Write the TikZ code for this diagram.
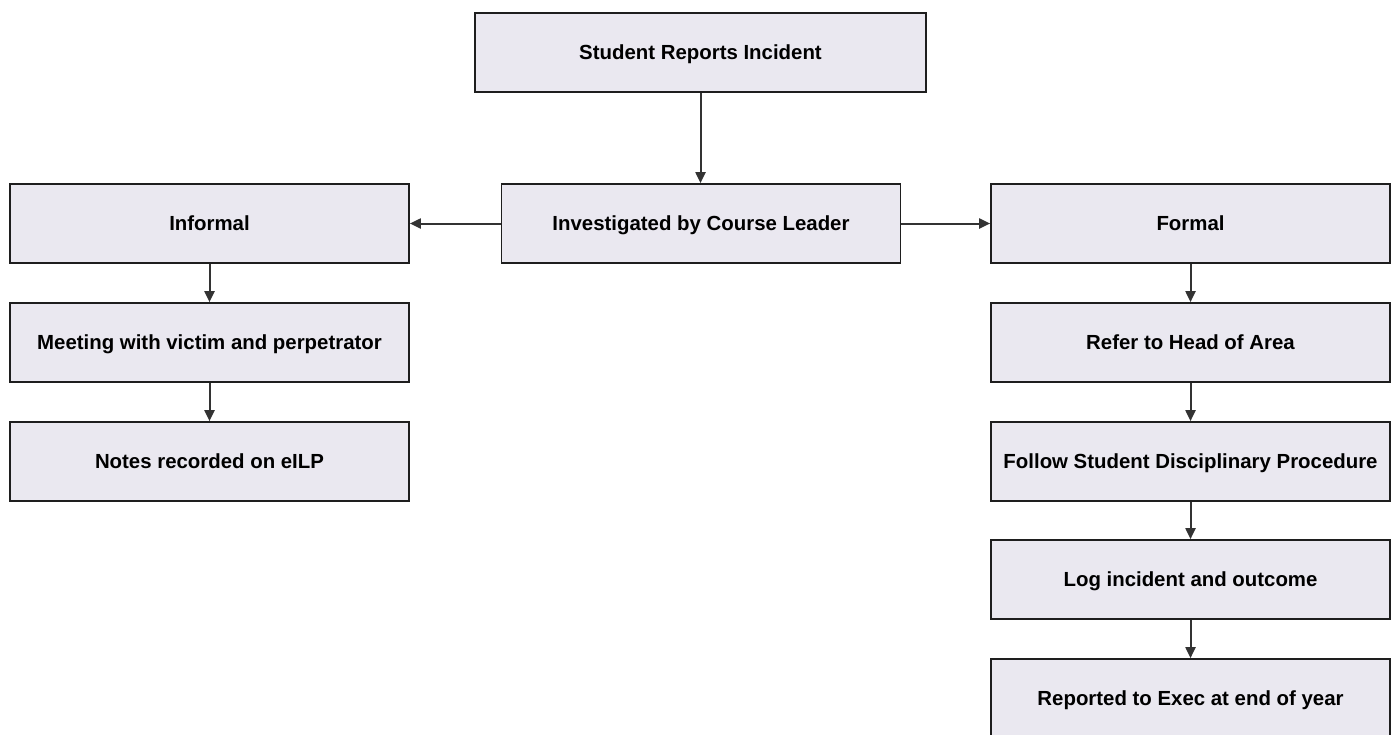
\documentclass[tikz,border=0pt]{standalone}
\usepackage{fontspec}
\setmainfont{Liberation Sans}
\usetikzlibrary{arrows.meta}
\definecolor{boxfill}{HTML}{EAE8F0}
\definecolor{boxline}{HTML}{1E1E1E}
\definecolor{arrline}{HTML}{333333}
\tikzset{
  stepbox/.style={draw=boxline, line width=1.7pt, fill=boxfill, rectangle,
    minimum width=399pt, minimum height=79pt, inner sep=0pt,
    text height=14.6pt, text depth=0pt,
    font=\fontsize{20.4}{24}\selectfont\bfseries, text=black},
  conn/.style={draw=arrline, line width=2pt,
    -{Triangle[length=11pt,width=10pt]}}
}
\begin{document}
\begin{tikzpicture}[x=1pt,y=-1pt]
\useasboundingbox (0,0) rectangle (1391,734);
\fill[white] (0,0) rectangle (1391,734);
\node[stepbox, minimum width=451pt] (student) at (700.5,52.5) {Student Reports Incident};
\node[stepbox] (invest) at (701,223.5) {Investigated by Course Leader};
\node[stepbox] (informal) at (209.5,223.5) {Informal};
\node[stepbox] (formal) at (1190.5,223.5) {Formal};
\node[stepbox] (meeting) at (209.5,342.5) {Meeting with victim and perpetrator};
\node[stepbox] (notes) at (209.5,461.5) {Notes recorded on eILP};
\node[stepbox] (refer) at (1190.5,342.5) {Refer to Head of Area};
\node[stepbox] (follow) at (1190.5,461.5) {Follow Student Disciplinary Procedure};
\node[stepbox] (log) at (1190.5,579.5) {Log incident and outcome};
\node[stepbox] (reported) at (1190.5,698.5) {Reported to Exec at end of year};
\draw[conn] (student.south) -- (student.south |- invest.north);
\draw[conn] (invest.west) -- (informal.east);
\draw[conn] (invest.east) -- (formal.west);
\draw[conn] (informal) -- (meeting);
\draw[conn] (meeting) -- (notes);
\draw[conn] (formal) -- (refer);
\draw[conn] (refer) -- (follow);
\draw[conn] (follow) -- (log);
\draw[conn] (log) -- (reported);
\end{tikzpicture}
\end{document}
